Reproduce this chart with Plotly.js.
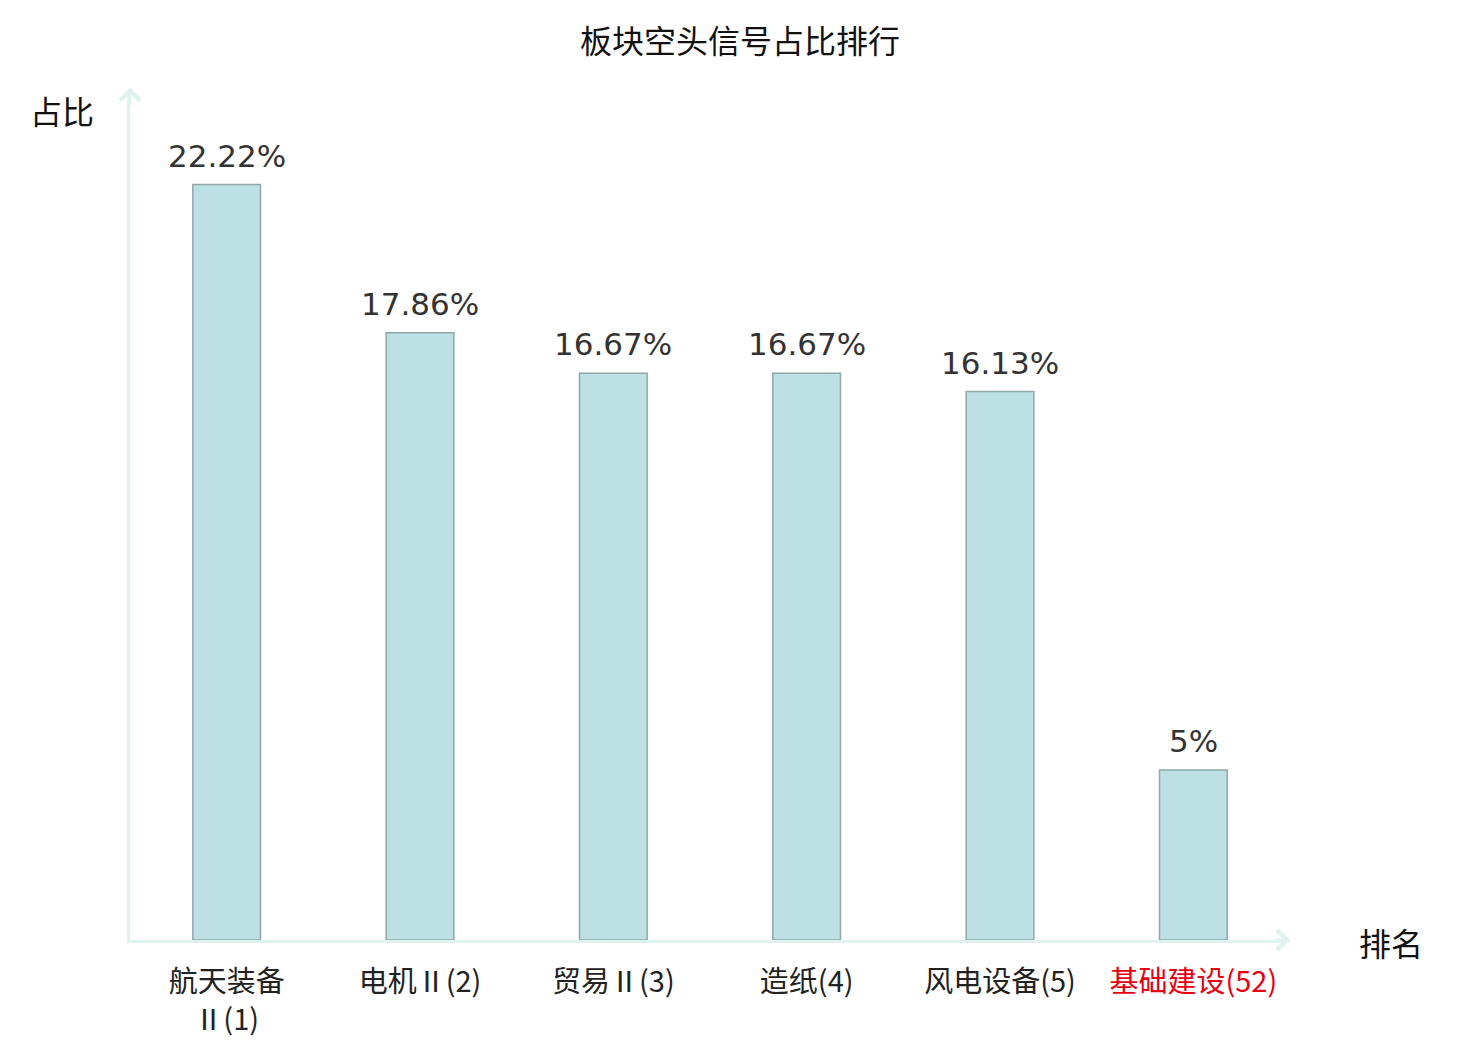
<!DOCTYPE html>
<html>
<head>
<meta charset="utf-8">
<script src="https://cdn.plot.ly/plotly-3.0.1.min.js"></script>
<style>html,body{margin:0;padding:0;background:#fff;}#chart{width:1480px;height:1040px;}</style>
</head>
<body>
<div id="chart"></div>
<script>
// ---- data ----
const categories = ["航天装备Ⅱ(1)", "电机Ⅱ(2)", "贸易Ⅱ(3)", "造纸(4)", "风电设备(5)", "基础建设(52)"];
const tickLabels = ["航天装备<br>Ⅱ(1)", "电机Ⅱ(2)", "贸易Ⅱ(3)", "造纸(4)", "风电设备(5)", "<span style=\"color:#e60012\">基础建设(52)</span>"];
const values = [22.22, 17.86, 16.67, 16.67, 16.13, 5];
const valueLabels = ["22.22%", "17.86%", "16.67%", "16.67%", "16.13%", "5%"];

const axisColor = "#dff2ef";
const cjk = "Noto Sans CJK SC, sans-serif";

const trace = {
  type: "bar",
  x: categories,
  y: values,
  width: 0.35,
  marker: {color: "#bce0e3", line: {color: "#8fa8a8", width: 1.5}},
  hoverinfo: "x+y"
};

const labelAnns = categories.map((c, i) => ({
  x: c, y: values[i], xref: "x", yref: "y",
  text: valueLabels[i], showarrow: false,
  yanchor: "middle", yshift: 29,
  font: {family: "DejaVu Sans, sans-serif", size: 31, color: "#333333"}
}));

const layout = {
  width: 1480, height: 1040,
  paper_bgcolor: "#ffffff", plot_bgcolor: "#ffffff",
  margin: {l: 130, r: 190, t: 90, b: 100},
  showlegend: false,
  title: {text: "板块空头信号占比排行", x: 0.5, xanchor: "center", y: 1 - 42/1040, yanchor: "middle", yref: "container",
          font: {family: cjk, size: 32, color: "#111111"}},
  xaxis: {
    type: "category",
    tickvals: categories, ticktext: tickLabels,
    showline: true, linecolor: axisColor, linewidth: 3,
    showgrid: false, zeroline: false,
    ticks: "outside", ticklen: 14, tickcolor: "rgba(0,0,0,0)",
    tickfont: {family: cjk, size: 29, color: "#222222"},
    tickangle: 0, fixedrange: true
  },
  yaxis: {
    range: [0, 25],
    showline: true, linecolor: axisColor, linewidth: 3,
    showgrid: false, zeroline: false, showticklabels: false, ticks: "",
    fixedrange: true
  },
  annotations: labelAnns.concat([
    {xref: "paper", yref: "paper", x: 1, y: 0, axref: "paper", ayref: "paper", ax: 0.985, ay: 0,
     text: "", showarrow: true, arrowhead: 4, arrowsize: 1.3, arrowwidth: 3, arrowcolor: axisColor, standoff: 0},
    {xref: "paper", yref: "paper", x: 0, y: 1.003, axref: "paper", ayref: "paper", ax: 0, ay: 0.98,
     text: "", showarrow: true, arrowhead: 4, arrowsize: 1.3, arrowwidth: 3, arrowcolor: axisColor, standoff: 0},
    {xref: "paper", yref: "paper", x: -0.0586, y: 0.976, text: "占比", showarrow: false,
     xanchor: "center", yanchor: "middle", font: {family: cjk, size: 32, color: "#111111"}},
    {xref: "paper", yref: "paper", x: 1.087, y: -0.002, text: "排名", showarrow: false,
     xanchor: "center", yanchor: "middle", font: {family: cjk, size: 32, color: "#111111"}}
  ])
};

Plotly.newPlot("chart", [trace], layout, {displayModeBar: false});
</script>
</body>
</html>
